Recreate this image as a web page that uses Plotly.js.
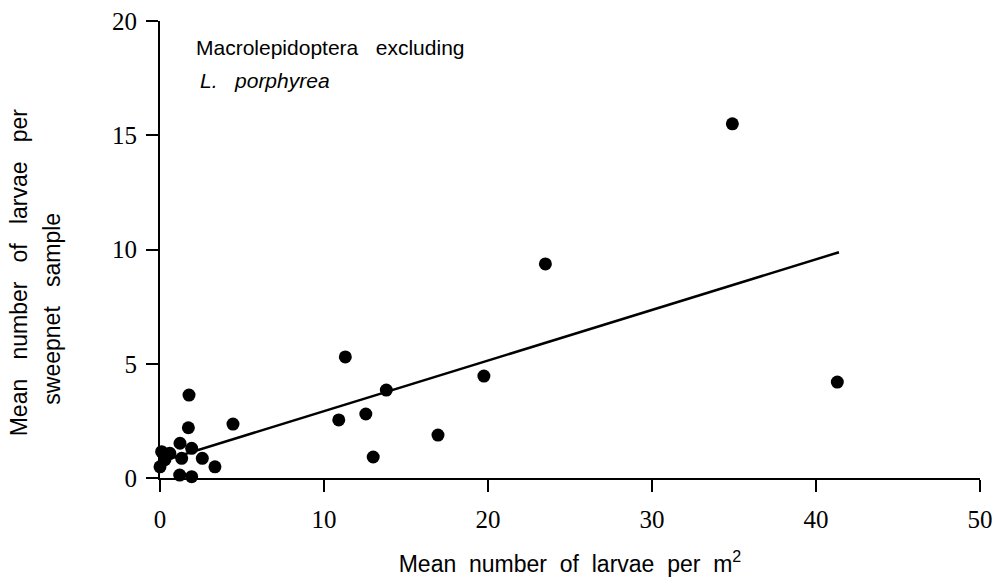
<!DOCTYPE html>
<html>
<head>
<meta charset="utf-8">
<script src="https://cdn.plot.ly/plotly-3.0.1.min.js"></script>
<style>html,body{margin:0;padding:0;background:#fff;}#chart{width:997px;height:587px;}</style>
</head>
<body>
<div id="chart"></div>
<script>
// Observed points (mean larvae per m2, mean larvae per sweepnet sample)
var larvaePerM2 = [34.9, 23.5, 41.3, 19.75, 11.3, 13.8, 10.9, 12.55, 16.95, 13.0, 4.45,
                   1.77, 1.73, 1.22, 1.93, 0.1, 0.6, 1.32, 2.58, 3.35, 0.0, 0.3, 1.2, 1.93];
var larvaePerSweep = [15.5, 9.37, 4.2, 4.46, 5.3, 3.85, 2.54, 2.8, 1.88, 0.92, 2.36,
                      3.63, 2.2, 1.52, 1.3, 1.15, 1.08, 0.86, 0.86, 0.49, 0.49, 0.8, 0.13, 0.06];
// Fitted regression line endpoints
var fitX = [0, 41.4];
var fitY = [0.71, 9.88];
var xTicks = [0, 10, 20, 30, 40, 50];
var yTicks = [0, 5, 10, 15, 20];

var SANS = 'Liberation Sans';
var SERIF = 'Liberation Serif';
var nb = '\u00a0';

var traces = [
  {x: fitX, y: fitY, mode: 'lines', type: 'scatter',
   line: {color: '#000', width: 2.5}, hoverinfo: 'skip', cliponaxis: false},
  {x: larvaePerM2, y: larvaePerSweep, mode: 'markers', type: 'scatter',
   marker: {color: '#000', size: 13, line: {width: 0}}, cliponaxis: false}
];

var layout = {
  width: 997, height: 587,
  margin: {l: 160, r: 17, t: 21, b: 109},
  paper_bgcolor: '#fff', plot_bgcolor: '#fff',
  showlegend: false,
  font: {family: SANS, color: '#000'},
  xaxis: {
    range: [0, 50], tickmode: 'array', tickvals: xTicks, ticktext: xTicks.map(String),
    showline: true, linecolor: '#000', linewidth: 2,
    ticks: 'outside', ticklen: 12, tickwidth: 2, tickcolor: '#000',
    showgrid: false, zeroline: false, ticklabelstandoff: 6,
    tickfont: {family: SERIF, size: 25, color: '#000'},
    title: {text: ['Mean', 'number', 'of', 'larvae', 'per', 'm<sup>2</sup>'].join(nb + ' '),
            font: {family: SANS, size: 23, color: '#000'}, standoff: 24}
  },
  yaxis: {
    range: [0, 20], tickmode: 'array', tickvals: yTicks, ticktext: yTicks.map(String),
    showline: true, linecolor: '#000', linewidth: 2,
    ticks: 'outside', ticklen: 12, tickwidth: 2, tickcolor: '#000',
    showgrid: false, zeroline: false, ticklabelstandoff: 4,
    tickfont: {family: SERIF, size: 25, color: '#000'}
  },
  annotations: [
    {xref: 'paper', yref: 'paper', x: -0.172, y: 0.45, xanchor: 'center', yanchor: 'middle',
     textangle: -90, showarrow: false,
     text: ['Mean', 'number', 'of', 'larvae', 'per'].join(nb + nb + ' '),
     font: {family: SANS, size: 23, color: '#000'}},
    {xref: 'paper', yref: 'paper', x: -0.132, y: 0.37, xanchor: 'center', yanchor: 'middle',
     textangle: -90, showarrow: false,
     text: ['sweepnet', 'sample'].join(nb + nb + ' '),
     font: {family: SANS, size: 23, color: '#000'}},
    {xref: 'paper', yref: 'paper', x: 0.042, y: 0.941, xanchor: 'left', yanchor: 'middle',
     showarrow: false, text: 'Macrolepidoptera' + nb + nb + ' excluding',
     font: {family: SANS, size: 21, color: '#000'}},
    {xref: 'paper', yref: 'paper', x: 0.046, y: 0.87, xanchor: 'left', yanchor: 'middle',
     showarrow: false, text: '<i>L.' + nb + nb + ' porphyrea</i>',
     font: {family: SANS, size: 21, color: '#000'}}
  ]
};

Plotly.newPlot('chart', traces, layout, {staticPlot: true, displayModeBar: false});
</script>
</body>
</html>
